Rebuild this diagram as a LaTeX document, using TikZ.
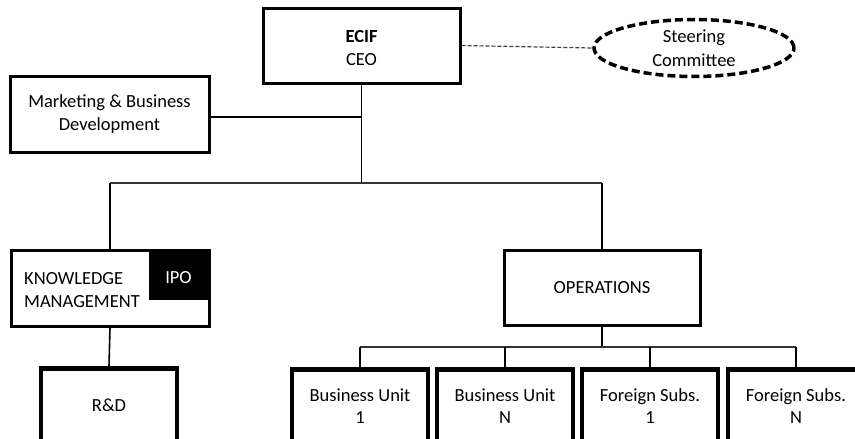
\documentclass[tikz,border=0pt]{standalone}
\usepackage{fontspec}
\setmainfont{Carlito}
\usetikzlibrary{shapes.geometric}
\begin{document}
\begin{tikzpicture}[x=1pt,y=-1pt,
  labelfont/.style={font=\fontsize{18.5}{22.5}\selectfont},
  unitbox/.style={draw=black,line width=3pt,rectangle,inner sep=0pt,align=center,labelfont},
  heavybox/.style={unitbox,line width=4.5pt},
  link/.style={draw=black,line width=1.6pt},
  bus/.style={draw=black!80,line width=1.6pt},
  txt/.style={inner sep=0pt,align=center,labelfont}]
\useasboundingbox (0,0) rectangle (855,439);

% top level
\node[unitbox,minimum width=197pt,minimum height=75pt] (ceo) at (361.5,45.5) {};
\node[txt] (ceotxt) at (361.5,48) {\textbf{ECIF}\\CEO};
\node[draw=black,line width=3.5pt,dash pattern=on 8pt off 4pt,ellipse,
      minimum width=200pt,minimum height=57pt,inner sep=0pt,align=center,
      font=\fontsize{18.5}{24}\selectfont] (steer) at (694,48) {Steering\\Committee};
\draw[draw=black!75,line width=1.2pt,dash pattern=on 4pt off 2pt] (ceo.east) -- (steer.west);

\node[unitbox,minimum width=199pt,minimum height=76pt] (mkt) at (109.5,114) {Marketing \& Business\\Development};

% second level
\node[unitbox,minimum width=198pt,minimum height=76pt] (km) at (110,288) {};
\node[rectangle,fill=black,minimum width=61pt,minimum height=51pt,inner sep=0pt,
      anchor=north east] (ipo) at (km.north east) {};
\node[txt,text=white] (ipotxt) at (178.5,278) {IPO};
\node[txt,anchor=west,align=left] (kmtxt) at (24,290) {KNOWLEDGE\\MANAGEMENT};

\node[unitbox,minimum width=196pt,minimum height=75pt] (ops) at (602,287.5) {OPERATIONS};

% third level
\node[heavybox,minimum width=136pt,minimum height=110pt,anchor=north] (rd) at (109,366) {};
\node[txt] (rdtxt) at (109,405) {R\&D};

\node[heavybox,minimum width=136pt,minimum height=110pt,anchor=north] (bu1) at (360,367) {};
\node[heavybox,minimum width=136pt,minimum height=110pt,anchor=north] (bun) at (505,367) {};
\node[heavybox,minimum width=136pt,minimum height=110pt,anchor=north] (fs1) at (650,367) {};
\node[heavybox,minimum width=136pt,minimum height=110pt,anchor=north] (fsn) at (796,367) {};
\node[txt] (bu1txt) at (360,406) {Business Unit\\1};
\node[txt] (buntxt) at (505,406) {Business Unit\\N};
\node[txt] (fs1txt) at (650,406) {Foreign Subs.\\1};
\node[txt] (fsntxt) at (796,406) {Foreign Subs.\\N};

% connectors
\coordinate (hub) at (361.5,183);
\coordinate (mktj) at (361.5,117);
\draw[link] (ceo.south) -- (hub);
\draw[link,line width=1.3pt] (mkt.east |- mktj) -- (mktj);
\draw[bus] (km.north |- hub) -- (ops.north |- hub);
\draw[link] (km.north |- hub) -- (km.north);
\draw[link] (ops.north |- hub) -- (ops.north);
\draw[link] (km.south) -- (rd.north);

\coordinate (obus) at (602,347);
\draw[link] (ops.south) -- (obus);
\draw[bus] (bu1.north |- obus) -- (fsn.north |- obus);
\foreach \b in {bu1,bun,fs1,fsn}
  \draw[link,line width=1.3pt] (\b.north |- obus) -- (\b.north);
\end{tikzpicture}
\end{document}
